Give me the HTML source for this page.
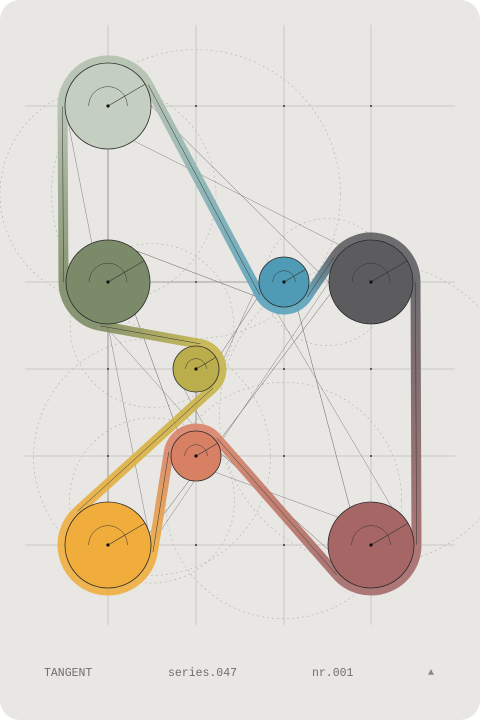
<!DOCTYPE html>
<html><head><meta charset="utf-8"><style>
html,body{margin:0;padding:0;background:#fff;}
#poster{position:relative;width:480px;height:720px;background:#e8e7e3;border-radius:20px;overflow:hidden;}
svg{position:absolute;left:0;top:0;}
.ft{position:absolute;top:667px;font-family:"Liberation Mono",monospace;font-size:11.5px;color:#6e6e6c;}
</style></head><body>
<div id="poster">
<svg id="art" width="480" height="720"></svg>
<div class="ft" style="left:44px">TANGENT</div>
<div class="ft" style="left:168px">series.047</div>
<div class="ft" style="left:312px">nr.001</div>
<div class="ft" style="left:428px;font-size:10px;top:668px;color:#888">▲</div>
</div>
<script>
const names=['sage','olive','blue','gray','mustard','salmon','orange','mauve'];
const cxs=[108,108,284,371,196,196,108,371];
const cys=[106,282,282,282,369,456,545,545];
const radii=[43,42,25,42,23,25,43,43];
const fills=['#c5cfc1','#7b8b69','#4f9bb6','#5c5c5f','#b9ad4c','#d88064','#f1ad3b','#a66666'];
const belts=['#b3c0ae','#7d8c66','#5aa3bb','#5f5f63','#c6b54a','#d98468','#eeae3e','#a46a6a'];
const order=[0,2,3,7,5,6,4,1];
const wind=[1,1,-1,1,-1,-1,1,1];
const NS='http://www.w3.org/2000/svg';
const svg=document.getElementById('art');
const OFF=2.5,BW=10;
function mk(tag,attrs,name){const e=document.createElementNS(NS,tag);for(const k in attrs)e.setAttribute(k,attrs[k]);


svg.appendChild(e);return e;}
const defs=mk('defs',{},'defs');
// grid lines
const gx=[...new Set(cxs)],gy=[...new Set(cys)];
gx.forEach(x=>mk('line',{x1:x,y1:25,x2:x,y2:625,stroke:'#adadaa','stroke-width':0.5},'grid-vertical'));
gy.forEach(y=>mk('line',{x1:25,y1:y,x2:455,y2:y,stroke:'#adadaa','stroke-width':0.5},'grid-horizontal'));
gx.forEach(x=>gy.forEach(y=>mk('circle',{cx:x,cy:y,r:1,fill:'#333'},'grid-dot')));
// dashed construction circles
for(let i=0;i<8;i++){const a=order[i],b=order[(i+1)%8];
 const mx=(cxs[a]+cxs[b])/2,my=(cys[a]+cys[b])/2,d=Math.hypot(cxs[a]-cxs[b],cys[a]-cys[b])/2+20;
 mk('circle',{cx:mx,cy:my,r:d,fill:'none',stroke:'#b0b0ac','stroke-width':0.6,'stroke-dasharray':'2 3'},'construction-circle');}
// thin connector lines
for(let i=0;i<8;i++)for(let j=i+1;j<8;j++){if((i+j)%3)continue;
 mk('line',{x1:cxs[i],y1:cys[i]-radii[i],x2:cxs[j],y2:cys[j]+radii[j],stroke:'#555','stroke-width':0.45},'construction-line');
 mk('line',{x1:cxs[i]-radii[i],y1:cys[i],x2:cxs[j]+radii[j],y2:cys[j],stroke:'#666','stroke-width':0.4},'construction-line');}
// belt geometry
const rot=v=>[-v[1],v[0]];
const segs=[];
for(let i=0;i<8;i++){const a=order[i],b=order[(i+1)%8];
 const ra=radii[a]+OFF,rb=radii[b]+OFF,ka=wind[a],kb=wind[b];
 const d=[cxs[b]-cxs[a],cys[b]-cys[a]],D2=d[0]*d[0]+d[1]*d[1];
 const m=kb*rb-ka*ra,L=Math.sqrt(D2-m*m),rd=rot(d);
 const t=[(L*d[0]-m*rd[0])/D2,(L*d[1]-m*rd[1])/D2],rt=rot(t);
 const pa=[cxs[a]-ka*ra*rt[0],cys[a]-ka*ra*rt[1]],pb=[cxs[b]-kb*rb*rt[0],cys[b]-kb*rb*rt[1]];
 segs.push({a,b,pa,pb});}
// straight belt segments
segs.forEach((s,i)=>{const id='g'+i;
 const g=mk('linearGradient',{id,gradientUnits:'userSpaceOnUse',x1:s.pa[0],y1:s.pa[1],x2:s.pb[0],y2:s.pb[1]},'belt-gradient');
 defs.appendChild(g);
 const s1=document.createElementNS(NS,'stop');s1.setAttribute('offset','0');s1.setAttribute('stop-color',belts[s.a]);g.appendChild(s1);
 const s2=document.createElementNS(NS,'stop');s2.setAttribute('offset','1');s2.setAttribute('stop-color',belts[s.b]);g.appendChild(s2);
 mk('line',{x1:s.pa[0],y1:s.pa[1],x2:s.pb[0],y2:s.pb[1],stroke:'url(#'+id+')','stroke-width':BW,opacity:0.9},'belt-segment-'+names[s.a]);});
// belt arcs
for(let i=0;i<8;i++){const c=order[i],pin=segs[(i+7)%8].pb,pout=segs[i].pa,r=radii[c]+OFF,k=wind[c];
 const ai=Math.atan2(pin[1]-cys[c],pin[0]-cxs[c]),ao=Math.atan2(pout[1]-cys[c],pout[0]-cxs[c]);
 let dl=k>0?ao-ai:ai-ao;dl=((dl%(2*Math.PI))+2*Math.PI)%(2*Math.PI);
 mk('path',{d:`M${pin[0]},${pin[1]} A${r},${r} 0 ${dl>Math.PI?1:0} ${k>0?1:0} ${pout[0]},${pout[1]}`,fill:'none',stroke:belts[c],'stroke-width':BW,opacity:0.9},'belt-arc-'+names[c]);}
// pulleys
for(let i=0;i<8;i++){
 mk('circle',{cx:cxs[i],cy:cys[i],r:radii[i],fill:fills[i],stroke:'#2a2a2a','stroke-width':0.8},'pulley-'+names[i]);
 const h=radii[i]*0.45;
 mk('path',{d:`M${cxs[i]-h},${cys[i]} A${h},${h} 0 0 1 ${cxs[i]+h},${cys[i]}`,fill:'none',stroke:'#333','stroke-width':0.5},'angle-arc');
 mk('line',{x1:cxs[i],y1:cys[i],x2:cxs[i]+radii[i]*0.85,y2:cys[i]-radii[i]*0.5,stroke:'#333','stroke-width':0.6},'radius-line');
 mk('circle',{cx:cxs[i],cy:cys[i],r:1.6,fill:'#111'},'pulley-center');}
// tangent guide lines over belts
segs.forEach(s=>mk('line',{x1:s.pa[0],y1:s.pa[1],x2:s.pb[0],y2:s.pb[1],stroke:'#333','stroke-width':0.5},'tangent-line'));
</script>
</body></html>
